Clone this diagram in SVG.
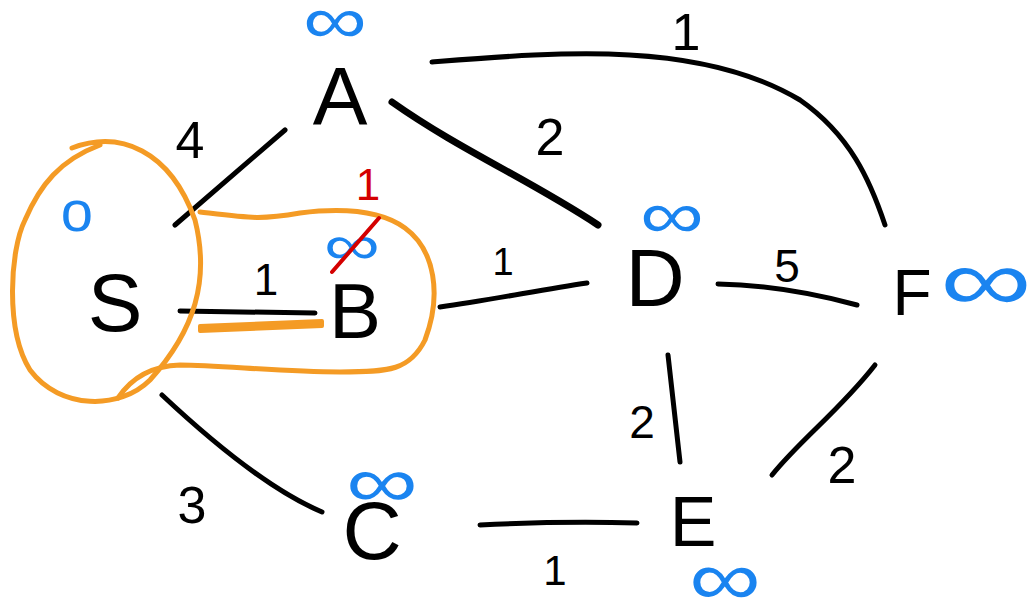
<svg xmlns="http://www.w3.org/2000/svg" width="1033" height="599" viewBox="0 0 1033 599">
<style>
.edge{fill:none;stroke:#000;stroke-width:5;stroke-linecap:round}
.lbl{font-family:"Liberation Sans",sans-serif;font-size:82px;fill:#000;text-anchor:middle;dominant-baseline:central}
.w{font-family:"Liberation Sans",sans-serif;font-size:52px;fill:#000;text-anchor:middle;dominant-baseline:central}
.inf{font-family:"Liberation Sans",sans-serif;font-size:56px;fill:#1a84f0;text-anchor:middle;dominant-baseline:central}
.hl{fill:none;stroke:#f49b25;stroke-width:5;stroke-linecap:round;stroke-linejoin:round}
</style>
<rect width="1033" height="599" fill="#fff"/>
<g id="connectors">
<path class="edge" d="M175 225 L285 130"/>
<path class="edge" d="M432 62 C560 52 700 40 800 100 C850 135 870 180 885 225"/>
<path class="edge" d="M392 102 C460 150 530 180 598 225" style="stroke-width:7"/>
<path class="edge" d="M180 311 L315 313"/>
<path class="edge" d="M440 307 C490 300 540 290 587 283"/>
<path class="edge" d="M718 284 C770 285 820 295 857 305"/>
<path class="edge" d="M668 355 L680 462"/>
<path class="edge" d="M875 365 C840 410 800 440 772 475"/>
<path class="edge" d="M162 395 C210 440 270 490 322 512"/>
<path class="edge" d="M480 525 C540 522 600 522 637 523"/>
<text class="w" x="190" y="140">4</text>
<text class="w" x="686" y="32">1</text>
<text class="w" x="550" y="137">2</text>
<text class="w" x="266" y="279" style="font-size:44px">1</text>
<text class="w" x="503" y="262" style="font-size:38px">1</text>
<text class="w" x="787" y="266" style="font-size:46px">5</text>
<text class="w" x="642" y="422" style="font-size:46px">2</text>
<text class="w" x="842" y="465">2</text>
<text class="w" x="192" y="505">3</text>
<text class="w" x="555" y="570" style="font-size:42px">1</text>
</g>
<g id="highlight">
<path class="hl" d="M72 148 C120 130 170 150 195 220 C210 280 195 330 150 380 C120 410 60 410 30 370 C5 330 10 250 25 220 C40 185 60 160 100 145"/>
<path class="hl" d="M200 212 C250 218 260 220 300 213 C340 208 380 210 405 228 C435 250 442 295 425 340 C410 370 390 372 340 372 C280 372 220 365 180 365 C150 366 130 380 118 398"/>
<path d="M200 326 L322 321 L322 326 L200 331 Z" fill="#f49b25" stroke="#f49b25" stroke-width="4" stroke-linejoin="round"/>
</g>
<g id="node-S"><text class="lbl" x="115" y="302">S</text><text class="inf" x="77" y="210" style="font-size:58px">o</text></g>
<g id="node-A"><text class="lbl" x="340" y="95">A</text><text class="inf" transform="translate(335 20) scale(1.6 1.2)" x="0" y="0">∞</text></g>
<g id="node-B"><text class="lbl" x="355" y="311" style="font-size:78px">B</text><text class="inf" transform="translate(352 244) scale(1.4 1)" x="0" y="0">∞</text>
<path d="M332 272 L379 218" stroke="#d40000" stroke-width="4" stroke-linecap="round"/>
<text x="368" y="184" style="font-family:'Liberation Sans',sans-serif;font-size:44px;fill:#d40000;text-anchor:middle;dominant-baseline:central">1</text></g>
<g id="node-C"><text class="lbl" x="372" y="530">C</text><text class="inf" transform="translate(382 482) scale(1.8 1.3)" x="0" y="0">∞</text></g>
<g id="node-D"><text class="lbl" x="655" y="277">D</text><text class="inf" transform="translate(672 215) scale(1.6 1.2)" x="0" y="0">∞</text></g>
<g id="node-E"><text class="lbl" x="693" y="522" style="font-size:70px">E</text><text class="inf" transform="translate(725 578) scale(1.8 1.4)" x="0" y="0">∞</text></g>
<g id="node-F"><text class="lbl" x="912" y="293" style="font-size:64px">F</text><text class="inf" transform="translate(986 280) scale(2.3 1.6)" x="0" y="0">∞</text></g>
</svg>
